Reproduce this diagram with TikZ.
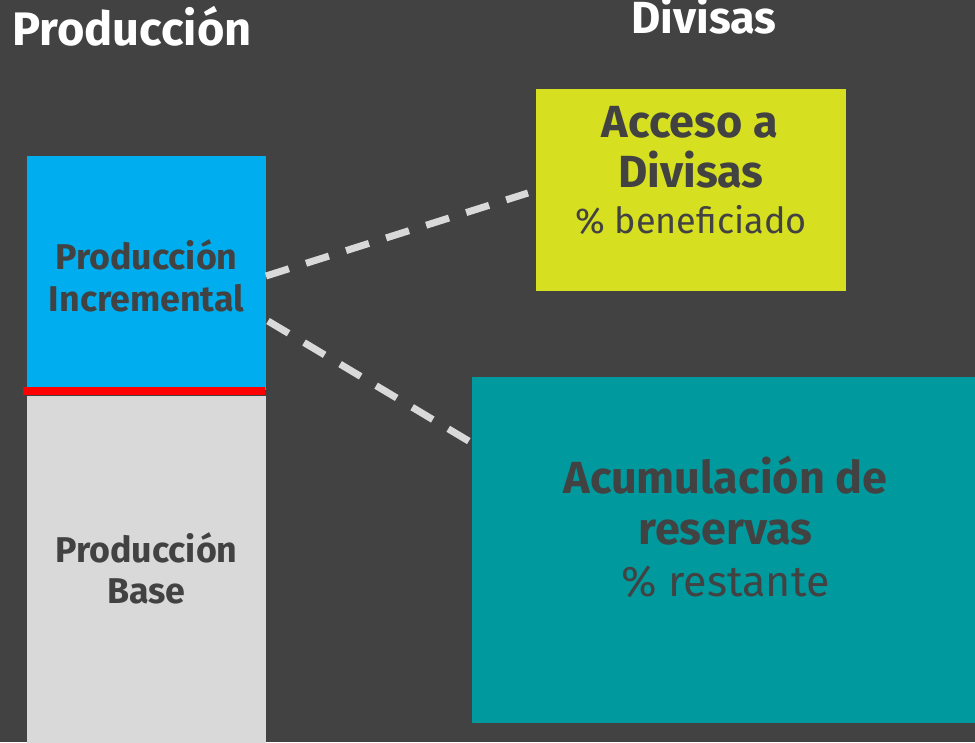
\documentclass[tikz,border=0pt]{standalone}
\usepackage{fontspec}
\setmainfont{Fira Sans}
\usetikzlibrary{calc}
\definecolor{bg}{HTML}{424242}
\definecolor{txt}{HTML}{424242}
\definecolor{cblue}{HTML}{00AEEF}
\definecolor{cyellow}{HTML}{D6DF20}
\definecolor{cteal}{HTML}{009A9E}
\definecolor{cgray}{HTML}{D9D9D9}
\definecolor{cdash}{HTML}{D9D9D9}
\tikzset{
  boxshape/.style={draw=none, inner sep=0pt, outer sep=0pt, rectangle},
  heading/.style={text=white, font=\bfseries\fontsize{47}{50}\selectfont, anchor=base, inner sep=0pt},
  boxbold/.style={text=txt, font=\bfseries\fontsize{35.8}{40}\selectfont, anchor=base, inner sep=0pt},
  bigbold/.style={text=txt, font=\bfseries\fontsize{45}{50}\selectfont, anchor=base, inner sep=0pt},
  lighttext/.style={text=txt, font=\fontsize{36}{40}\selectfont, anchor=base, inner sep=0pt},
  lighttextb/.style={text=txt, font=\fontsize{43}{46}\selectfont, anchor=base, inner sep=0pt},
  dashlink/.style={draw=cdash, line width=7pt, dash pattern=on 24pt off 18pt}
}
\begin{document}
\begin{tikzpicture}[x=1pt, y=-1pt]
\fill[bg] (0,0) rectangle (975,742);
\useasboundingbox (0,0) rectangle (975,742);

% boxes
\node[boxshape, fill=cblue, minimum width=239pt, minimum height=234pt] (inc) at (146.5,273) {};
\node[boxshape, fill=cgray, minimum width=239pt, minimum height=348pt] (base) at (146.5,570) {};
\node[boxshape, fill=red, minimum width=242pt, minimum height=8pt] (redline) at (144,391) {};
\node[boxshape, fill=cyellow, minimum width=310pt, minimum height=202pt] (acc) at (691,190) {};
\node[boxshape, fill=cteal, minimum width=503pt, minimum height=346pt] (res) at (723.5,550) {};

% headings
\node[heading] (h1) at (132,45) {Producción};
\node[heading, font=\bfseries\fontsize{45}{50}\selectfont] (h2) at (704,33) {Divisas};

% box texts
\node[boxbold] (t1) at (146.5,269) {Producción};
\node[boxbold] (t2) at (146.5,311) {Incremental};
\node[boxbold] (t3) at (146.5,562) {Producción};
\node[boxbold] (t4) at (146.5,603) {Base};

\node[bigbold] (t5) at (690,137) {Acceso a};
\node[bigbold] (t6) at (691,187) {Divisas};
\node[lighttext] (t7) at (691,233) {\% beneficiado};

\node[bigbold] (t8) at (725.5,493) {Acumulación de};
\node[bigbold] (t9) at (725.5,544) {reservas};
\node[lighttextb] (t10) at (725.5,596) {\% restante};

% dashed connectors
\draw[dashlink] ([yshift=-3pt]inc.east) -- ([xshift=-8pt,yshift=-3pt]acc.west);
\draw[dashlink] ([xshift=2pt,yshift=-48pt]inc.east) -- ([yshift=-66pt]res.north west);
\end{tikzpicture}
\end{document}
